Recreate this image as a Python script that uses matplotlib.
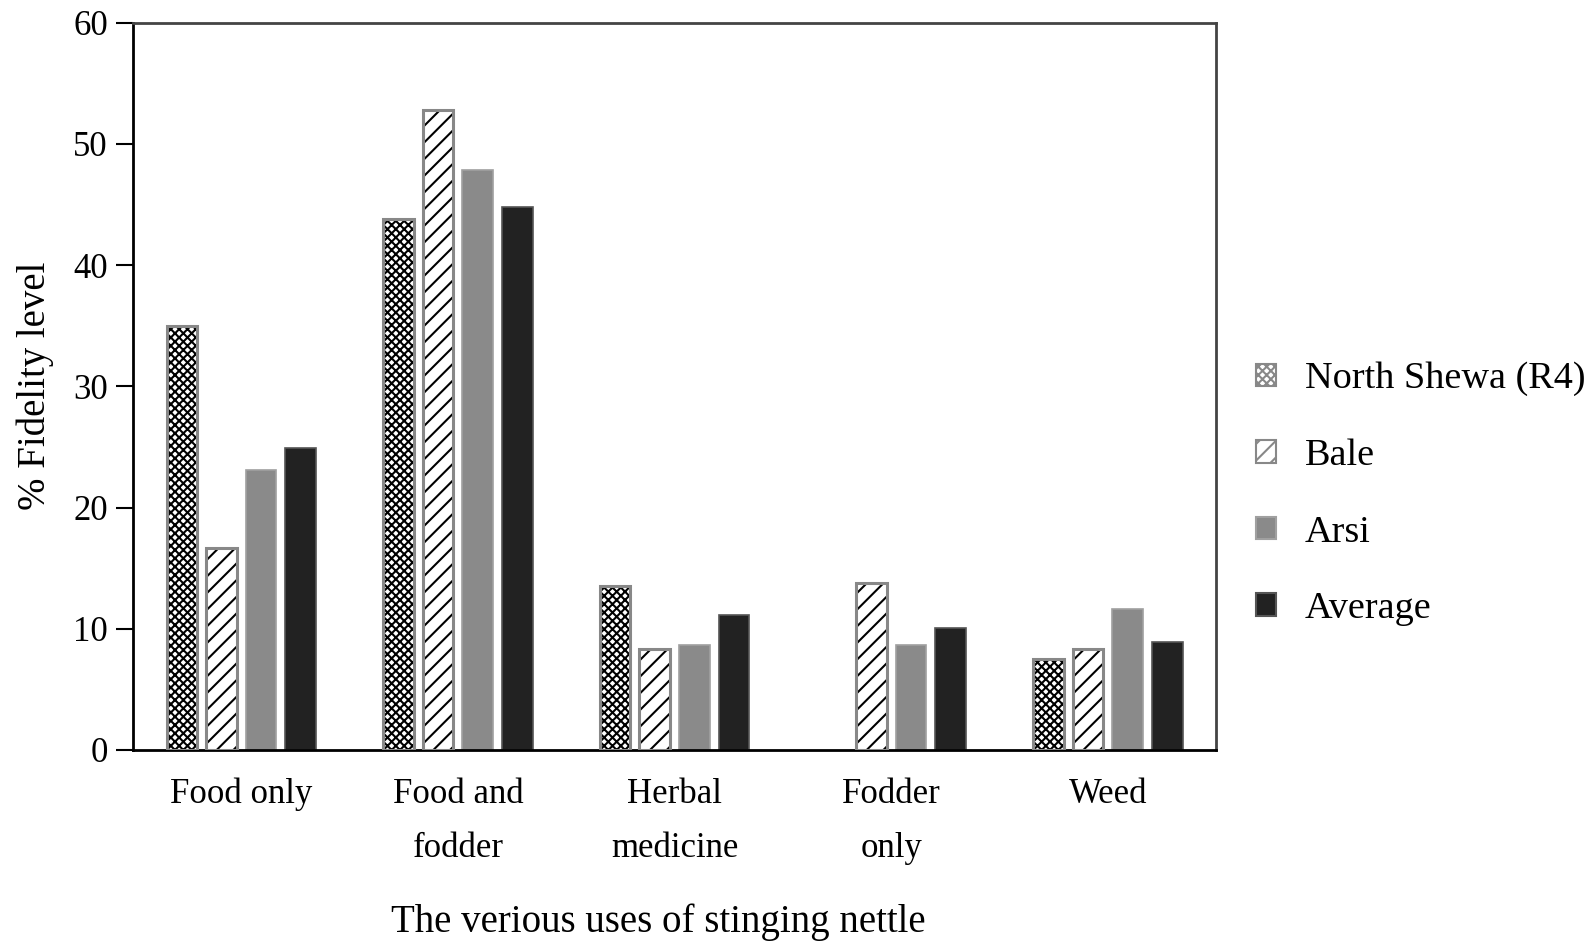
import numpy as np
import matplotlib
matplotlib.use("Agg")
import matplotlib.pyplot as plt
from matplotlib.patches import Patch

plt.rcParams['font.family'] = ['Liberation Serif', 'DejaVu Serif']
plt.rcParams['hatch.linewidth'] = 1.5

# ---- data ----
usos = ["Food only", "Food and\nfodder", "Herbal\nmedicine", "Fodder\nonly", "Weed"]
series = ["North Shewa (R4)", "Bale", "Arsi", "Average"]
north_shewa = [35.0, 43.8, 13.5, 0.0, 7.5]
bale = [16.7, 52.8, 8.3, 13.8, 8.3]
arsi = [23.1, 47.8, 8.7, 8.7, 11.6]
average = [24.9, 44.8, 11.1, 10.1, 8.9]

valores = [north_shewa, bale, arsi, average]
relleno = ["white", "white", "#8a8a8a", "#222222"]
tramas = ["xxxx", "//", None, None]
bordes = ["#888888", "#888888", "#a0a0a0", "#555555"]

fig = plt.figure(figsize=(15.94, 9.41), dpi=100)
ax = fig.add_axes([0.0834, 0.203, 0.6796, 0.773])

x = np.arange(len(usos))
ancho = 0.141
paso = 0.183
for i, v in enumerate(valores):
    pos = x + (i - 1.5) * paso
    v = np.array(v)
    mask = v > 0
    if tramas[i]:
        # trama negra y luego el borde gris encima
        ax.bar(pos[mask], v[mask], width=ancho, color=relleno[i], hatch=tramas[i],
               edgecolor="black", linewidth=0, zorder=2)
        ax.bar(pos[mask], v[mask], width=ancho, fill=False,
               edgecolor=bordes[i], linewidth=2.2, zorder=3)
    else:
        ax.bar(pos[mask], v[mask], width=ancho, color=relleno[i],
               edgecolor=bordes[i], linewidth=1.2, zorder=2)

ax.set_xlim(-0.5, 4.5)
ax.set_ylim(0, 60)
ax.set_yticks(np.arange(0, 61, 10))
ax.set_xticks(x)
ax.set_xticklabels(usos, fontsize=25, linespacing=1.85, va="top")
ax.tick_params(axis="x", length=0, pad=20)
ax.tick_params(axis="y", direction="out", length=12, width=1.5, labelsize=25, pad=6)

for s in ["left", "bottom"]:
    ax.spines[s].set_color("black")
    ax.spines[s].set_linewidth(2)
for s in ["top", "right"]:
    ax.spines[s].set_color("#444444")
    ax.spines[s].set_linewidth(2)

ax.set_ylabel("% Fidelity level", fontsize=28, labelpad=14)
ax.set_xlabel("The verious uses of stinging nettle", fontsize=28, labelpad=28, x=0.485)

handles = []
for i in range(4):
    handles.append(Patch(facecolor=relleno[i], hatch=tramas[i], edgecolor=bordes[i],
                         linewidth=1.5, label=series[i]))
ax.legend(handles=handles, loc="center left", bbox_to_anchor=(1.037, 0.352),
          frameon=False, fontsize=27.5, handlelength=0.52, handleheight=0.52,
          labelspacing=1.1, handletextpad=0.75, borderaxespad=0, borderpad=0)

fig.savefig("out.png", dpi=100)
